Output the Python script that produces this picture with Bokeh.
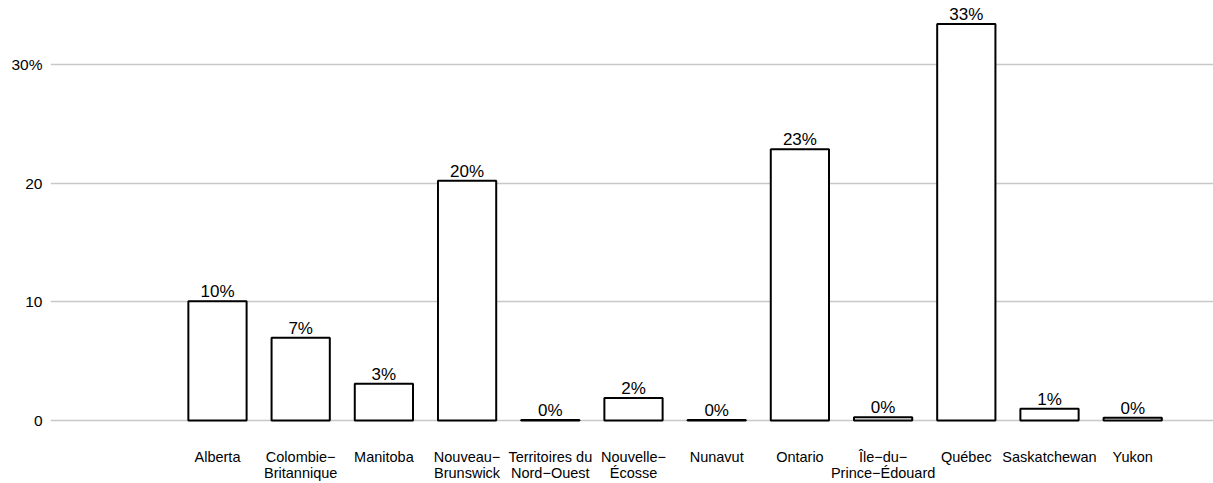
from bokeh.plotting import figure
from bokeh.models import ColumnDataSource, Range1d, FixedTicker
from bokeh.embed import file_html
from bokeh.resources import INLINE

# ---- data ----
provinces = [
    "Alberta", "Colombie\u2212\nBritannique", "Manitoba", "Nouveau\u2212\nBrunswick",
    "Territoires du\nNord\u2212Ouest", "Nouvelle\u2212\n\u00c9cosse", "Nunavut", "Ontario",
    "\u00cele\u2212du\u2212\nPrince\u2212\u00c9douard", "Qu\u00e9bec", "Saskatchewan", "Yukon",
]
shares = [10.05, 6.97, 3.1, 20.2, 0.05, 1.9, 0.05, 22.85, 0.28, 33.4, 1.0, 0.23]
value_labels = ["10%", "7%", "3%", "20%", "0%", "2%", "0%", "23%", "0%", "33%", "1%", "0%"]
y_ticks = [0, 10, 20, 30]
y_tick_labels = ["0", "10", "20", "30%"]

FONT = "Liberation Sans"

xs = list(range(len(provinces)))
src = ColumnDataSource(dict(x=xs, top=shares, lab=value_labels))

p = figure(width=1213, height=483, output_backend="svg", toolbar_location=None,
           x_range=Range1d(-2.007, 11.971), y_range=Range1d(-1.095, 35.39),
           min_border_left=50, min_border_right=0, min_border_top=0, min_border_bottom=50)
p.outline_line_color = None
p.background_fill_color = "white"

p.vbar(x="x", top="top", bottom=0, width=0.70, source=src,
       fill_color="white", line_color="black", line_width=2)
p.text(x="x", y="top", text="lab", source=src, text_align="center",
       text_baseline="bottom", y_offset=0, text_font_size="17px",
       text_color="black", text_font={"value": FONT})

# x axis
p.xaxis.ticker = FixedTicker(ticks=xs)
p.xaxis.major_label_overrides = {i: s for i, s in zip(xs, provinces)}
p.xaxis.axis_line_color = None
p.xaxis.major_tick_line_color = None
p.xaxis.minor_tick_line_color = None
p.xaxis.major_tick_out = 0
p.xaxis.major_tick_in = 0
p.xaxis.minor_tick_out = 0
p.xaxis.major_label_standoff = 15
p.xaxis.major_label_text_font = FONT
p.xaxis.major_label_text_font_size = "14.5px"
p.xaxis.major_label_text_color = "black"
p.xaxis.major_label_text_line_height = 1.03

# y axis
p.yaxis.ticker = FixedTicker(ticks=y_ticks)
p.yaxis.major_label_overrides = {t: s for t, s in zip(y_ticks, y_tick_labels)}
p.yaxis.axis_line_color = None
p.yaxis.major_tick_line_color = None
p.yaxis.minor_tick_line_color = None
p.yaxis.major_tick_out = 0
p.yaxis.major_tick_in = 0
p.yaxis.major_label_standoff = 8
p.yaxis.major_label_text_font = FONT
p.yaxis.major_label_text_font_size = "15.5px"
p.yaxis.major_label_text_color = "black"

p.xgrid.grid_line_color = None
p.ygrid.grid_line_color = "#c8c8c8"
p.ygrid.grid_line_width = 1.5

open("out.html", "w").write(file_html(p, INLINE))
